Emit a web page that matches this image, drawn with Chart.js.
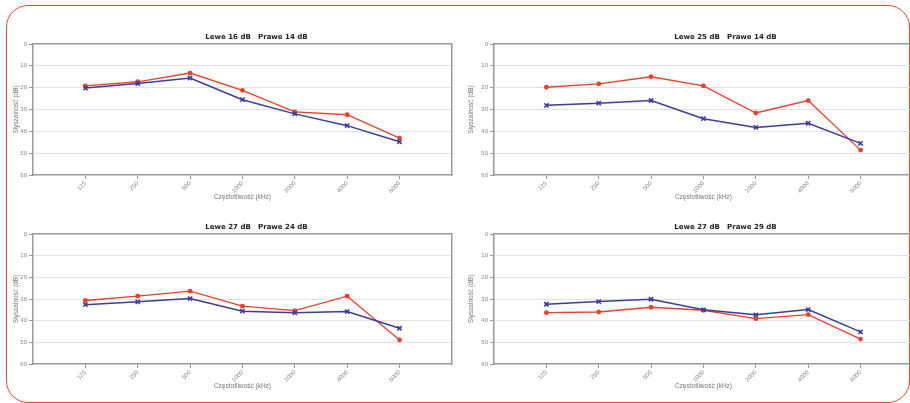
<!DOCTYPE html>
<html>
<head>
<title>Audiogramy</title>
<script src="https://cdn.jsdelivr.net/npm/chart.js"></script>
<style>
  body { margin:0; background:#fff; width:910px; height:403px; overflow:hidden; position:relative; font-family:"DejaVu Sans", sans-serif; }
  .frame { position:absolute; left:6px; top:5px; width:904px; height:398px; border:1.5px solid #e8462e; border-radius:22px; box-sizing:border-box; }
  canvas { position:absolute; }
</style>
</head>
<body>
<div class="frame"></div>
<canvas id="c1" style="left:0;top:28px" width="458" height="173"></canvas>
<canvas id="c2" style="left:455px;top:28px" width="464" height="173"></canvas>
<canvas id="c3" style="left:0;top:218px" width="458" height="172"></canvas>
<canvas id="c4" style="left:455px;top:218px" width="464" height="172"></canvas>
<script>
// częstotliwości (Hz) - pusty slot z każdej strony jak w oryginale
const freqs = ['', '125', '250', '500', '1000', '2000', '4000', '8000', ''];
const yTicks = [0, 10, 20, 30, 40, 50, 60];

const titles = [
  'Lewe 16 dB   Prawe 14 dB',
  'Lewe 25 dB   Prawe 14 dB',
  'Lewe 27 dB   Prawe 24 dB',
  'Lewe 27 dB   Prawe 29 dB'
];

// ucho prawe (czerwone) / lewe (niebieskie), dB
const prawe1 = [19.2, 17.3, 13.3, 21.2, 31.1, 32.4, 43.1];
const lewe1  = [20.2, 18.1, 15.6, 25.5, 32.0, 37.4, 44.8];
const prawe2 = [19.8, 18.3, 15.0, 19.2, 31.6, 25.9, 48.6];
const lewe2  = [28.1, 27.1, 25.9, 34.2, 38.2, 36.3, 45.5];
const prawe3 = [30.7, 28.7, 26.4, 33.3, 35.4, 28.7, 48.9];
const lewe3  = [32.6, 31.3, 29.8, 35.6, 36.4, 35.8, 43.5];
const prawe4 = [36.3, 36.0, 33.8, 35.2, 39.1, 37.2, 48.5];
const lewe4  = [32.4, 31.2, 30.1, 35.0, 37.3, 34.9, 45.2];

const RED = '#e8412c';
const BLUE = '#3a3d9c';

const pad = arr => [null, ...arr, null];

// tytuł rysowany nad środkiem wykresu (lekko przesunięty w prawo jak w oryginale)
const topTitle = {
  id: 'topTitle',
  afterDraw(chart, args, opts) {
    const {ctx, chartArea} = chart;
    ctx.save();
    ctx.font = 'bold 7px "DejaVu Sans", sans-serif';
    ctx.fillStyle = '#222';
    ctx.textAlign = 'center';
    ctx.textBaseline = 'middle';
    ctx.fillText(opts.text, (chartArea.left + chartArea.right) / 2 + opts.shift, chartArea.top - 7);
    ctx.restore();
  }
};

function makeChart(id, title, red, blue, yw, shift) {
  new Chart(document.getElementById(id), {
    type: 'line',
    data: {
      labels: freqs,
      datasets: [
        { data: pad(blue), borderColor: BLUE, backgroundColor: BLUE, borderWidth: 1.5,
          pointStyle: 'crossRot', pointRadius: 3, pointBorderWidth: 1.6 },
        { data: pad(red), borderColor: RED, backgroundColor: RED, borderWidth: 1.3,
          pointStyle: 'circle', pointRadius: 2.4, pointBorderWidth: 0 }
      ]
    },
    options: {
      responsive: false,
      animation: false,
      layout: { padding: { top: 16, right: 0, left: 0, bottom: 0 } },
      plugins: {
        legend: { display: false },
        tooltip: { enabled: false },
        topTitle: { text: title, shift: shift }
      },
      scales: {
        x: {
          grid: { drawOnChartArea: false, tickLength: 4,
                  tickColor: c => (c.index === 0 || c.index === freqs.length - 1) ? 'rgba(0,0,0,0)' : '#999' },
          border: { color: '#9a9a9a', width: 1.5 },
          ticks: { color: '#888', font: { size: 6 }, maxRotation: 45, minRotation: 45, padding: 1 },
          title: { display: true, text: 'Częstotliwość (kHz)', color: '#777', font: { size: 6.5 }, padding: { top: 0, bottom: 0 } },
          afterFit: s => { s.height = 26; }
        },
        y: {
          reverse: true, min: 0, max: 60,
          afterBuildTicks: s => { s.ticks = yTicks.map(v => ({ value: v })); },
          grid: { color: c => (c.tick && (c.tick.value === 0 || c.tick.value === 60)) ? 'rgba(0,0,0,0)' : '#e2e2e2',
                  tickColor: '#999', tickLength: 4, lineWidth: 1 },
          border: { color: '#9a9a9a', width: 1.5 },
          ticks: { color: '#888', font: { size: 6 }, padding: 2 },
          title: { display: true, text: 'Słyszalność (dB)', color: '#777', font: { size: 6.5 }, padding: { top: 12, bottom: 0 } },
          afterFit: s => { s.width = yw; }
        },
        x2: { position: 'top', grid: { drawOnChartArea: false, drawTicks: false }, border: { color: '#9a9a9a', width: 1.5 },
              ticks: { display: false }, afterFit: s => { s.height = 0; } },
        y2: { position: 'right', grid: { drawOnChartArea: false, drawTicks: false }, border: { color: '#9a9a9a', width: 1.5 },
              ticks: { display: false }, afterFit: s => { s.width = 0; } }
      }
    },
    plugins: [topTitle]
  });
}

makeChart('c1', titles[0], prawe1, lewe1, 33, 14);
makeChart('c2', titles[1], prawe2, lewe2, 39, 22);
makeChart('c3', titles[2], prawe3, lewe3, 33, 14);
makeChart('c4', titles[3], prawe4, lewe4, 39, 22);
</script>
</body>
</html>
